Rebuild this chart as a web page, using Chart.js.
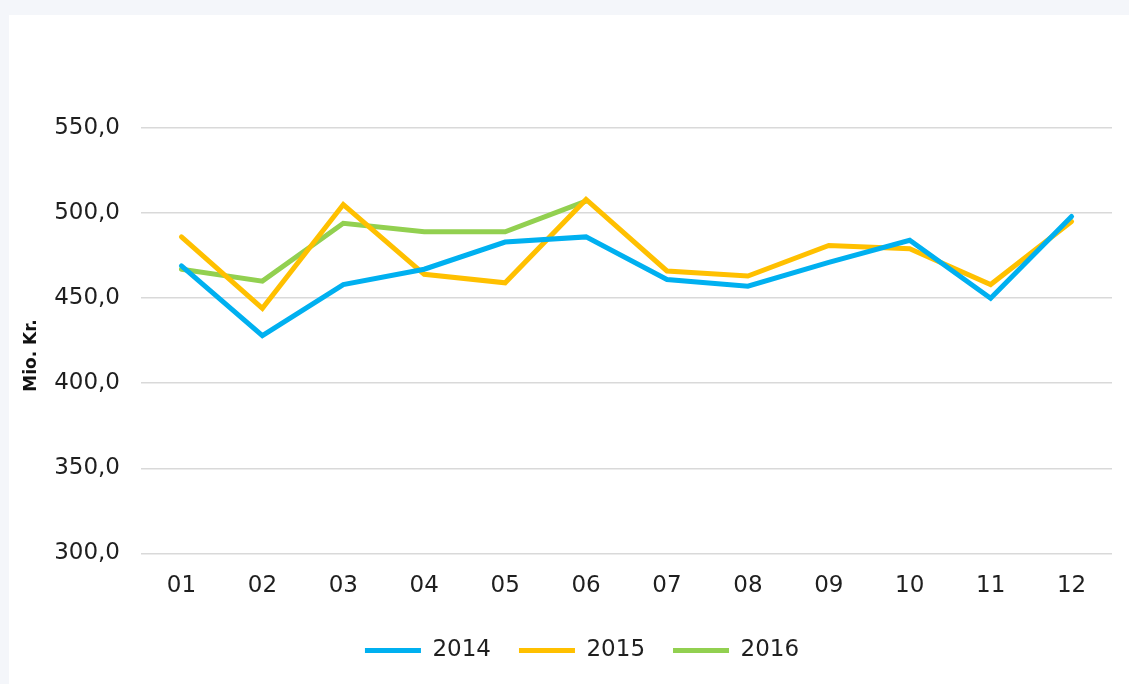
<!DOCTYPE html>
<html>
<head>
<meta charset="utf-8">
<script src="https://cdn.jsdelivr.net/npm/chart.js@4"></script>
<style>
  html, body { margin: 0; padding: 0; background: #f4f6fa; }
  #panel { position: absolute; left: 9px; top: 15px; width: 1120px; height: 669px; background: #fff; }
  canvas { display: block; }
</style>
</head>
<body>
<div id="panel"><canvas id="lineChart" width="1120" height="669"></canvas></div>
<script>
// maaneder og omsaetning i mio. kr.
const months = ['01', '02', '03', '04', '05', '06', '07', '08', '09', '10', '11', '12'];
const values2014 = [469, 428, 458, 467, 483, 486, 461, 457, 471, 484, 450, 498];
const values2015 = [486, 444, 505, 464, 459, 508, 466, 463, 481, 479, 458, 495];
const values2016 = [467, 460, 494, 489, 489, 507];
const yTicks = [300, 350, 400, 450, 500, 550];

Chart.defaults.font.family = '"DejaVu Sans", sans-serif';
Chart.defaults.color = '#1f1f1f';

function series(label, data, color) {
    return {
        label: label,
        data: data,
        borderColor: color,
        backgroundColor: color,
        borderWidth: 5,
        borderCapStyle: 'round',
        borderJoinStyle: 'miter',
        pointRadius: 0,
        tension: 0
    };
}

const ctx = document.getElementById('lineChart').getContext('2d');
new Chart(ctx, {
    type: 'line',
    data: {
        labels: months,
        datasets: [
            series('2014', values2014, '#00b0f0'),
            series('2015', values2015, '#ffc000'),
            series('2016', values2016, '#92d050')
        ]
    },
    options: {
        responsive: false,
        animation: false,
        // venstre padding flytter legenden lidt til hoejre
        layout: { padding: { top: 113, right: 17, left: 43, bottom: 12 } },
        scales: {
            x: {
                offset: true,
                grid: { display: false },
                border: { display: false },
                ticks: { font: { size: 23 }, padding: 11, maxRotation: 0 }
            },
            y: {
                min: yTicks[0],
                max: yTicks[yTicks.length - 1],
                afterBuildTicks: function (axis) {
                    axis.ticks = yTicks.map(function (v) { return { value: v }; });
                },
                afterFit: function (axis) {
                    axis.width = 89;
                },
                grid: { color: '#d9d9d9', lineWidth: 1.5, drawTicks: false },
                border: { display: false },
                ticks: {
                    font: { size: 23 },
                    padding: 21,
                    callback: function (value) {
                        return value.toFixed(1).replace('.', ',');
                    }
                },
                title: {
                    display: true,
                    text: 'Mio. Kr.     ',
                    font: { size: 17, weight: 'bold' },
                    color: '#111',
                    padding: { top: -31, bottom: 0 }
                }
            }
        },
        plugins: {
            legend: {
                position: 'bottom',
                labels: {
                    usePointStyle: true,
                    pointStyle: 'line',
                    pointStyleWidth: 56,
                    font: { size: 23 },
                    padding: 28
                }
            },
            tooltip: { enabled: false }
        }
    }
});
</script>
</body>
</html>
